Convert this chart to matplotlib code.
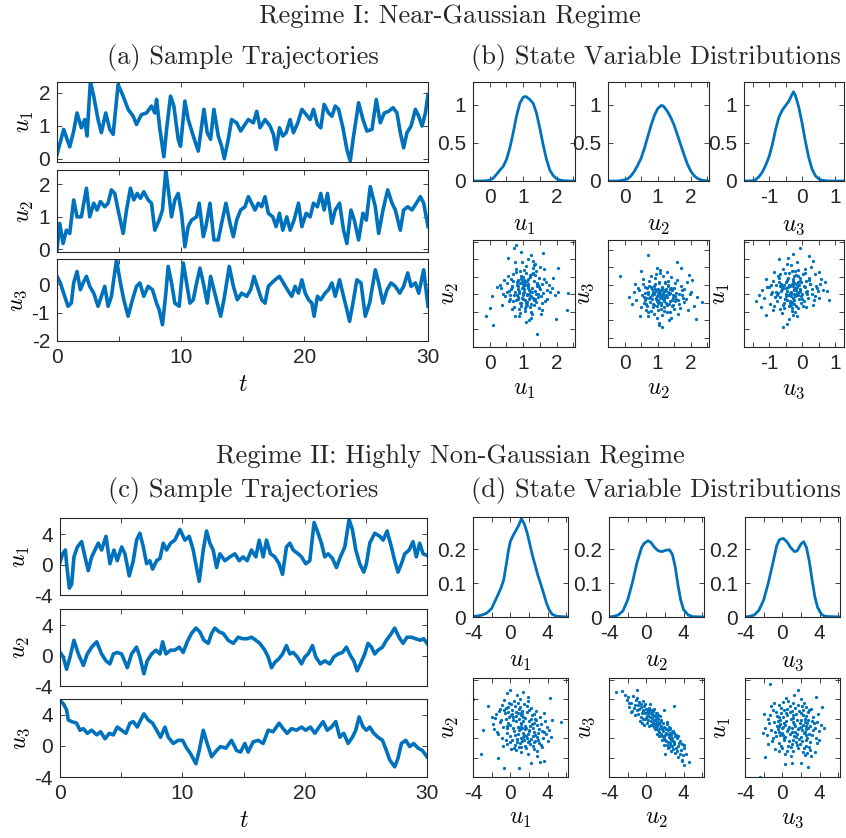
import numpy as np
import matplotlib
matplotlib.use('Agg')
import matplotlib.pyplot as plt

plt.rcParams['font.family'] = ['Liberation Sans', 'DejaVu Sans']
plt.rcParams['mathtext.fontset'] = 'cm'
plt.rcParams['axes.unicode_minus'] = False

BLUE = '#0072BD'
EDGE = '#262626'
W, H = 846, 838

# ---------------- Regime I: trajectories (t, u) ----------------
r1_u1 = [(0, 0.13), (0.54, 0.89), (1.03, 0.36), (1.35, 0.84), (1.62, 1.39), (1.97, 0.94), (2.24, 1.19), (2.43, 0.69),
         (2.70, 2.35), (2.97, 1.90), (3.32, 1.19), (3.59, 0.79), (3.94, 1.39), (4.27, 0.89), (4.54, 0.74), (4.94, 2.25),
         (5.35, 1.90), (5.75, 1.50), (6.16, 1.29), (6.43, 1.04), (6.83, 1.34), (7.24, 1.39), (7.64, 1.60), (7.91, 1.39),
         (8.05, 1.80), (8.32, 0.89), (8.64, 0.06), (8.86, 0.89), (9.18, 1.90), (9.45, 1.60), (9.80, 0.59), (9.99, 0.38),
         (10.34, 1.75), (10.61, 1.19), (11.02, 0.69), (11.42, 0.23), (11.88, 1.50), (12.15, 0.79), (12.42, 0.59),
         (12.69, 1.50), (13.04, 0.69), (13.31, 0.38), (13.53, 0.0), (13.85, 0.59), (14.12, 1.19), (14.53, 1.09),
         (14.85, 0.84), (15.20, 1.04), (15.47, 1.19), (15.88, 1.09), (16.15, 1.44), (16.42, 0.94), (16.82, 1.19),
         (17.23, 0.99), (17.50, 0.74), (17.72, 0.28), (17.99, 0.94), (18.26, 0.69), (18.53, 0.79), (18.85, 1.19),
         (19.12, 0.79), (19.47, 1.09), (19.80, 1.50), (20.15, 1.34), (20.47, 1.19), (20.74, 1.50), (21.06, 1.04),
         (21.33, 0.94), (21.60, 1.65), (21.96, 1.39), (22.23, 1.29), (22.50, 1.60), (22.77, 1.50), (23.12, 0.94),
         (23.44, 0.28), (23.71, -0.07), (23.98, 0.69), (24.39, 1.70), (24.74, 1.19), (25.06, 0.84), (25.47, 0.89),
         (25.82, 1.80), (26.14, 1.09), (26.47, 1.39), (26.82, 1.44), (27.17, 1.55), (27.49, 1.39), (27.76, 0.79),
         (28.03, 0.33), (28.30, 0.79), (28.63, 0.99), (28.98, 1.50), (29.25, 1.29), (29.52, 0.99), (29.79, 1.39),
         (30.0, 1.95)]
r1_u2 = [(0, -0.02), (0.22, 0.80), (0.49, 0.18), (0.76, 0.59), (1.03, 0.49), (1.35, 1.52), (1.62, 1.0), (1.97, 1.0),
         (2.38, 1.88), (2.65, 1.0), (2.97, 1.42), (3.24, 1.21), (3.51, 1.47), (3.86, 1.31), (4.13, 1.42), (4.40, 1.83),
         (4.67, 1.72), (4.94, 1.21), (5.35, 0.49), (5.62, 1.21), (5.94, 1.88), (6.21, 1.52), (6.48, 1.72), (6.75, 1.57),
         (7.02, 1.77), (7.37, 1.52), (7.64, 1.42), (7.91, 0.59), (8.26, 0.90), (8.53, 1.21), (8.80, 2.44), (9.07, 1.62),
         (9.26, 1.0), (9.53, 1.52), (9.80, 1.72), (10.07, 1.11), (10.34, 0.08), (10.61, 0.70), (10.88, 0.90),
         (11.29, 1.0), (11.50, 1.42), (11.83, 0.39), (12.04, 0.70), (12.37, 1.42), (12.69, 0.29), (13.04, 0.29),
         (13.31, 0.80), (13.66, 1.42), (13.99, 0.80), (14.26, 0.39), (14.53, 0.90), (14.85, 1.21), (15.20, 1.31),
         (15.47, 1.62), (15.74, 1.42), (16.01, 1.21), (16.28, 1.42), (16.55, 1.31), (16.82, 1.62), (17.09, 1.11),
         (17.45, 1.0), (17.72, 0.70), (17.99, 1.11), (18.26, 0.59), (18.58, 1.0), (18.85, 0.59), (19.17, 0.90),
         (19.53, 1.42), (19.80, 0.70), (20.15, 1.11), (20.47, 1.0), (20.74, 1.42), (21.06, 1.31), (21.33, 1.72),
         (21.60, 1.21), (21.87, 1.72), (22.23, 0.80), (22.50, 1.21), (22.85, 1.42), (23.17, 0.59), (23.44, 0.18),
         (23.77, 1.21), (24.04, 0.90), (24.39, 0.29), (24.74, 1.11), (25.01, 0.90), (25.33, 1.93), (25.74, 1.31),
         (26.01, 0.49), (26.36, 1.21), (26.74, 1.83), (27.09, 1.42), (27.36, 1.21), (27.76, 0.59), (28.03, 1.21),
         (28.36, 1.31), (28.71, 1.21), (29.06, 1.42), (29.38, 1.62), (29.65, 1.42), (30.0, 0.70)]
r1_u3 = [(0, 0.27), (0.27, 0.04), (0.62, -0.43), (0.89, -0.78), (1.16, -0.67), (1.35, 0.04), (1.62, 0.44),
         (1.89, -0.20), (2.11, 0.04), (2.38, 0.27), (2.65, -0.08), (2.97, -0.32), (3.32, -0.78), (3.59, -0.43),
         (3.86, -0.08), (4.13, -0.78), (4.40, -0.43), (4.81, 0.85), (5.13, 0.04), (5.40, -0.55), (5.75, -1.13),
         (6.10, -0.55), (6.43, -0.08), (6.70, 0.04), (7.02, -0.43), (7.37, -0.08), (7.72, -0.20), (8.05, -0.67),
         (8.26, -0.90), (8.53, -1.43), (8.80, -0.32), (8.99, 0.62), (9.26, 0.04), (9.53, -0.67), (9.88, -0.78),
         (10.21, 0.74), (10.48, 0.04), (10.75, -0.67), (11.02, -0.55), (11.29, 0.04), (11.56, 0.56), (11.83, 0.04),
         (12.15, -0.67), (12.42, 0.27), (12.69, -0.20), (12.96, -0.67), (13.23, -1.13), (13.50, -0.55), (13.93, 0.62),
         (14.26, -0.08), (14.58, -0.55), (14.93, -0.32), (15.34, -0.43), (15.66, -0.20), (15.93, 0.27), (16.28, -0.20),
         (16.55, -0.55), (16.82, -0.67), (17.09, -0.08), (17.36, 0.04), (17.63, 0.15), (17.99, 0.27), (18.31, 0.04),
         (18.63, -0.20), (18.98, -0.43), (19.25, -0.08), (19.53, -0.32), (19.80, 0.15), (20.07, -0.32), (20.34, -0.55),
         (20.61, -0.67), (20.79, -1.13), (21.06, -0.43), (21.33, -0.55), (21.68, -0.32), (21.95, -0.20), (22.23, 0.04),
         (22.50, -0.43), (22.85, 0.15), (23.17, -0.43), (23.44, -0.90), (23.66, -1.31), (23.93, -0.67), (24.25, 0.15),
         (24.58, 0.04), (24.93, -1.13), (25.28, -0.67), (25.74, 0.50), (26.01, 0.04), (26.36, -0.67), (26.69, -0.20),
         (27.01, 0.04), (27.36, -0.08), (27.71, -0.32), (28.03, -0.08), (28.36, 0.39), (28.63, -0.08), (28.98, 0.04),
         (29.25, -0.32), (29.65, 0.50), (30.0, -0.78)]

# ---------------- Regime I: densities (x, pdf) ----------------
r1_p1 = [(-0.5, 0), (-0.3, 0), (-0.1, 0.003), (0.0, 0.012), (0.1, 0.035), (0.2, 0.085), (0.3, 0.14), (0.4, 0.19),
         (0.5, 0.28), (0.6, 0.43), (0.7, 0.63), (0.8, 0.85), (0.9, 1.02), (1.0, 1.10), (1.08, 1.11), (1.2, 1.07),
         (1.3, 1.02), (1.4, 0.89), (1.5, 0.69), (1.6, 0.47), (1.7, 0.28), (1.8, 0.14), (1.9, 0.07), (2.0, 0.03),
         (2.1, 0.012), (2.2, 0.004), (2.4, 0), (2.55, 0)]
r1_p2 = [(-0.5, 0), (-0.2, 0), (0.0, 0.015), (0.1, 0.03), (0.2, 0.07), (0.3, 0.13), (0.4, 0.21), (0.5, 0.30),
         (0.6, 0.43), (0.7, 0.58), (0.8, 0.73), (0.9, 0.86), (1.0, 0.95), (1.1, 0.99), (1.15, 0.99), (1.2, 0.97),
         (1.3, 0.91), (1.4, 0.83), (1.5, 0.73), (1.6, 0.60), (1.7, 0.47), (1.8, 0.34), (1.9, 0.22), (2.0, 0.13),
         (2.1, 0.07), (2.2, 0.035), (2.3, 0.015), (2.4, 0.005), (2.55, 0)]
r1_p3 = [(-1.76, 0), (-1.6, 0), (-1.5, 0.005), (-1.4, 0.02), (-1.3, 0.06), (-1.2, 0.12), (-1.1, 0.21), (-1.0, 0.32),
         (-0.9, 0.48), (-0.8, 0.68), (-0.7, 0.84), (-0.6, 0.93), (-0.5, 0.99), (-0.4, 1.05), (-0.3, 1.14), (-0.26, 1.17),
         (-0.2, 1.12), (-0.1, 0.97), (0.0, 0.76), (0.1, 0.52), (0.2, 0.31), (0.3, 0.16), (0.4, 0.07), (0.5, 0.03),
         (0.6, 0.01), (0.8, 0), (1.27, 0)]

# ---------------- Regime I: scatter pairs ----------------
r1_s12 = [(1.02, 1.15), (0.84, 0.92), (1.31, 1.38), (1.12, 0.71), (0.67, 1.24), (1.45, 1.02), (0.95, 1.53), (1.18, 0.86), (0.73, 0.99), (1.56, 1.29),
          (1.08, 1.61), (0.89, 0.58), (1.27, 1.08), (0.52, 1.33), (1.39, 0.79), (1.01, 1.21), (0.78, 1.72), (1.22, 0.95), (1.63, 1.44), (0.94, 0.67),
          (1.15, 1.30), (0.61, 0.88), (1.34, 1.87), (0.99, 1.04), (1.48, 0.62), (0.86, 1.41), (1.05, 0.83), (1.72, 1.12), (0.41, 1.01), (1.19, 1.49),
          (0.92, 0.74), (1.26, 1.19), (0.70, 1.57), (1.11, 0.97), (1.53, 0.45), (0.83, 1.26), (1.37, 1.66), (1.04, 0.52), (0.58, 1.10), (1.29, 0.90),
          (0.97, 1.35), (1.66, 0.81), (0.76, 1.06), (1.14, 2.02), (1.42, 1.23), (0.88, 0.39), (1.21, 1.54), (0.32, 1.28), (1.09, 0.76), (1.85, 1.17),
          (0.96, 1.93), (1.33, 0.69), (0.65, 1.45), (1.17, 1.13), (1.50, 1.78), (0.80, 0.84), (1.03, 1.40), (1.24, 0.33), (0.47, 0.94), (1.40, 1.31),
          (1.00, 0.98), (0.91, 1.68), (1.59, 1.05), (0.72, 0.63), (1.13, 1.25), (1.36, 0.88), (0.85, 1.14), (1.07, 1.81), (1.94, 0.97), (0.55, 1.52),
          (1.23, 0.72), (0.98, 1.18), (1.46, 1.47), (0.69, 0.80), (1.16, 1.02), (1.30, 1.62), (0.81, 1.34), (1.06, 0.60), (1.77, 1.26), (0.38, 0.71),
          (1.20, 1.09), (0.93, 2.21), (1.43, 0.92), (0.63, 1.16), (1.10, 1.39), (1.55, 0.55), (0.87, 1.03), (1.28, 1.74), (1.01, 0.86), (0.21, 1.22),
          (1.35, 1.11), (0.90, 0.47), (1.68, 1.36), (0.75, 1.91), (1.12, 0.78), (1.47, 1.20), (0.82, 0.99), (1.25, 1.58), (1.04, 1.28), (2.05, 1.06),
          (0.59, 0.82), (1.18, 0.27), (0.95, 1.44), (1.38, 1.00), (0.71, 1.37), (1.08, 0.68), (1.61, 1.71), (0.44, 1.42), (1.32, 0.85), (1.00, 1.50),
          (0.86, 1.24), (1.22, 2.12), (1.52, 0.95), (0.66, 0.57), (1.14, 1.19), (0.97, 0.90), (1.41, 1.32), (0.79, 1.63), (1.27, 0.43), (1.88, 1.48),
          (0.53, 1.07), (1.06, 1.35), (1.33, 1.84), (0.89, 1.11), (1.19, 0.64), (0.08, 0.96), (1.44, 1.27), (0.94, 0.76), (1.71, 0.88), (0.74, 2.31),
          (1.11, 1.01), (1.36, 1.55), (0.84, 0.88), (1.02, 1.70), (2.35, 1.05), (0.62, 0.99), (1.24, 0.50), (0.99, 1.29), (1.49, 1.15), (0.77, 0.37),
          (1.15, 1.43), (1.57, 0.74), (0.35, 1.18), (1.29, 1.96), (0.92, 1.33), (1.07, 0.20), (1.80, 1.06), (0.68, 1.21), (1.21, 0.93), (1.03, 1.06),
          (1.40, -0.12), (0.80, 2.40), (-0.10, 0.37), (0.10, 0.13), (2.30, 0.55), (1.97, 0.30), (2.05, 1.76), (0.55, 2.05), (1.60, 2.19), (0.00, 0.60)]
r1_s23 = [(1.12, -0.31), (0.84, -0.12), (1.38, -0.45), (1.05, 0.05), (0.66, -0.38), (1.55, -0.22), (0.97, -0.60), (1.23, -0.18), (0.75, -0.02), (1.46, -0.36),
          (1.01, -0.27), (0.58, -0.51), (1.31, 0.11), (1.09, -0.69), (1.72, -0.29), (0.88, -0.25), (1.19, -0.47), (0.45, -0.15), (1.41, -0.08), (0.94, -0.40),
          (1.28, -0.58), (0.71, -0.21), (1.63, -0.53), (1.02, -0.13), (1.16, 0.26), (0.80, -0.75), (1.50, -0.10), (1.07, -0.33), (0.36, -0.44), (1.34, -0.26),
          (0.91, 0.02), (1.86, -0.39), (1.13, -0.86), (0.62, -0.07), (1.25, -0.30), (1.04, -0.49), (1.58, 0.15), (0.78, -0.34), (1.20, -0.16), (0.99, -0.95),
          (1.43, -0.42), (0.53, -0.28), (1.08, 0.33), (1.67, -0.65), (0.86, -0.55), (1.30, -0.04), (0.69, -0.60), (1.17, -0.23), (2.02, -0.19), (0.95, -0.37),
          (1.36, -0.78), (0.74, 0.12), (1.11, -0.52), (1.52, -0.31), (0.28, -0.20), (1.22, 0.04), (0.90, -0.24), (1.78, -0.11), (1.00, -0.71), (0.63, -0.44),
          (1.27, -0.35), (1.06, 0.42), (0.82, -0.30), (1.47, -0.57), (1.14, -0.09), (0.57, 0.01), (1.61, -0.44), (0.96, -0.17), (1.33, -0.99), (0.72, -0.27),
          (1.18, -0.40), (1.92, -0.70), (0.87, -0.64), (1.40, 0.21), (1.03, -0.21), (0.49, -0.62), (1.26, -0.50), (0.93, 0.18), (1.70, -0.02), (1.10, -0.56),
          (0.68, -0.10), (1.37, -0.24), (0.14, -0.35), (1.20, -0.74), (0.98, -0.46), (1.56, -0.39), (0.79, 0.26), (1.15, -0.28), (2.20, -0.33), (0.89, -0.82),
          (1.44, -0.15), (1.05, -1.08), (0.60, -0.33), (1.29, 0.37), (0.85, -0.19), (1.81, -0.49), (1.12, -0.05), (0.40, -0.08), (1.49, -0.68), (1.01, -0.29),
          (0.76, -0.48), (1.21, 0.09), (1.65, -0.27), (0.92, -0.11), (1.35, -0.55), (1.09, -0.36), (0.55, 0.17), (2.10, -0.60), (1.24, -0.13), (0.83, -0.39),
          (1.40, -0.93), (0.97, 0.48), (1.73, -0.16), (0.66, -0.70), (1.16, -0.41), (1.32, -0.20), (0.22, -0.55), (1.06, -0.25), (1.53, 0.06), (0.88, -0.57),
          (1.19, -0.63), (0.73, -0.36), (1.98, -0.25), (1.02, -0.44), (1.45, -0.30), (0.95, 0.30), (1.28, -0.77), (0.61, -0.24), (1.11, -0.14), (1.62, -0.82),
          (0.81, -0.06), (1.37, -0.12), (1.00, -0.52), (2.35, -0.48), (0.48, -0.88), (1.23, -0.34), (0.90, -0.03), (1.52, -0.47), (1.07, -0.17), (0.70, -0.78),
          (1.31, 0.00), (0.99, -0.32), (1.76, -0.37), (0.86, -0.22), (1.14, -1.20), (0.32, 0.03), (1.42, -0.60), (1.04, 0.09), (0.64, -0.53), (1.88, 0.07),
          (-0.13, 0.26), (0.72, 0.84), (1.57, 0.65), (2.17, -0.96), (1.05, -1.14), (1.70, 0.47), (0.50, 0.40), (1.95, 0.28), (0.72, -0.89), (2.05, 0.15)]
r1_s31 = [(-0.26, 1.12), (-0.51, 0.88), (-0.04, 1.35), (-0.33, 0.71), (0.12, 1.08), (-0.68, 1.24), (-0.19, 1.55), (-0.42, 0.97), (0.05, 0.82), (-0.29, 1.43),
          (-0.60, 1.18), (-0.11, 0.60), (-0.37, 1.03), (0.24, 1.29), (-0.82, 0.92), (-0.22, 1.68), (-0.48, 1.36), (-0.01, 1.01), (-0.31, 0.53), (-0.73, 1.52),
          (0.18, 0.90), (-0.14, 1.22), (-0.55, 0.76), (-0.35, 1.84), (0.31, 1.15), (-0.92, 1.07), (-0.24, 0.85), (-0.06, 1.47), (-0.64, 1.31), (-0.40, 0.67),
          (0.08, 1.62), (-0.18, 0.99), (-1.05, 1.21), (-0.45, 1.11), (0.40, 0.96), (-0.28, 0.42), (-0.58, 1.73), (-0.09, 1.26), (-0.77, 0.81), (-0.35, 1.04),
          (0.21, 1.41), (-0.50, 0.94), (-0.16, 1.93), (-0.87, 1.38), (-0.02, 0.74), (-0.39, 1.27), (0.47, 1.09), (-0.66, 0.58), (-0.25, 1.16), (-1.15, 0.89),
          (-0.13, 1.34), (-0.44, 2.05), (0.15, 1.01), (-0.57, 1.19), (-0.30, 0.79), (0.02, 1.58), (-0.95, 1.00), (-0.21, 0.96), (-0.70, 1.46), (0.34, 0.70),
          (-0.36, 1.24), (-0.08, 0.88), (-0.62, 0.47), (-0.27, 1.39), (0.55, 1.30), (-0.47, 0.83), (-0.12, 1.70), (-1.22, 1.12), (-0.33, 1.07), (0.10, 1.21),
          (-0.53, 1.60), (-0.19, 0.68), (-0.79, 1.28), (0.27, 1.78), (-0.41, 0.98), (-0.05, 1.10), (-0.66, 0.93), (-0.23, 1.51), (0.36, 0.84), (-0.98, 0.73),
          (-0.31, 1.30), (-0.14, 0.38), (-0.72, 1.05), (0.06, 1.23), (-0.46, 1.42), (-0.27, 0.90), (0.62, 1.12), (-0.84, 1.63), (-0.10, 1.06), (-0.56, 0.62),
          (-0.20, 1.18), (-1.30, 0.97), (-0.38, 0.76), (0.20, 1.48), (-0.61, 1.14), (-0.03, 0.95), (-0.45, 1.88), (0.43, 1.24), (-0.89, 0.55), (-0.25, 1.33),
          (-0.15, 1.04), (-0.69, 1.34), (0.13, 0.63), (-0.43, 1.21), (-0.32, 1.66), (0.29, 1.02), (-1.08, 1.45), (-0.07, 1.38), (-0.52, 0.87), (-0.28, 2.15),
          (0.52, 0.89), (-0.76, 0.99), (-0.17, 1.13), (-0.39, 0.30), (0.09, 1.72), (-0.63, 1.09), (-0.24, 0.72), (0.70, 1.36), (-0.94, 1.26), (-0.48, 1.17),
          (-0.11, 1.52), (-0.34, 0.95), (0.25, 1.31), (-0.58, 0.70), (-0.01, 0.87), (-1.40, 0.81), (-0.29, 1.25), (0.38, 1.57), (-0.80, 1.06), (-0.21, 0.51),
          (-0.44, 1.46), (0.16, 1.11), (-0.67, 1.58), (-0.06, 1.16), (-0.36, 0.82), (0.58, 1.44), (-1.00, 1.20), (-0.26, 1.01), (-0.54, 1.28), (0.04, 0.68),
          (-0.18, 1.29), (-0.49, 1.02), (0.32, 1.94), (-0.85, 0.66), (-0.12, 0.99), (-0.40, 1.61), (0.11, 1.38), (-0.62, 1.24), (-0.30, 0.61), (0.46, 1.19),
          (-0.07, 2.31), (0.82, 0.85), (-0.57, 0.07), (-1.24, 0.63), (0.51, 1.65), (-0.70, 2.00), (0.75, 1.10), (-1.10, 0.40), (-0.45, 0.15), (0.20, 2.10)]

# ---------------- Regime II: trajectories (t, u) ----------------
r2_u1 = [(0, 0.3), (0.22, 1.4), (0.44, 1.9), (0.54, 0.1), (0.76, -3.1), (0.95, -2.6), (1.14, 1.0), (1.42, 2.3), (1.77, 3.0),
         (2.04, 1.0), (2.31, -0.8), (2.59, 1.0), (2.86, 1.9), (3.13, 2.8), (3.40, 1.9), (3.76, 3.7), (4.08, 0.1), (4.41, 1.9),
         (4.68, 0.5), (5.04, 2.3), (5.31, 1.4), (5.66, -1.5), (5.99, 0.5), (6.26, 3.2), (6.53, 4.1), (6.81, 2.3), (7.08, 0.1),
         (7.35, 0.5), (7.57, -0.6), (7.90, 0.5), (8.17, 0.8), (8.44, 2.8), (8.71, 1.9), (9.04, 2.8), (9.39, 3.2), (9.80, 4.6),
         (10.21, 3.2), (10.56, 3.7), (10.89, 1.9), (11.16, -0.4), (11.38, -2.2), (11.71, 1.9), (11.98, 4.4), (12.25, 2.8),
         (12.52, 1.9), (12.80, -0.4), (13.07, 1.4), (13.48, 0.5), (13.89, 1.0), (14.29, 1.4), (14.65, 0.5), (14.97, 1.0),
         (15.30, 0.5), (15.65, 1.9), (16.01, 1.0), (16.28, 3.2), (16.61, 1.0), (16.88, 3.2), (17.21, 1.4), (17.56, 1.0),
         (17.91, 0.1), (18.19, -1.3), (18.51, 2.3), (18.79, 2.8), (19.06, 1.9), (19.47, 1.4), (19.74, 1.0), (20.09, 0.1),
         (20.42, 0.5), (20.77, 5.5), (21.10, 4.1), (21.37, 2.8), (21.64, 1.0), (21.92, 1.4), (22.27, 0.8), (22.60, -0.4),
         (22.92, 1.0), (23.28, 2.3), (23.63, 5.9), (23.90, 4.6), (24.18, 1.9), (24.50, 0.1), (24.83, -1.0), (25.05, 0.1),
         (25.32, 2.8), (25.73, 4.1), (26.14, 3.7), (26.41, 3.2), (26.74, 4.4), (27.09, 2.3), (27.36, 0.5), (27.63, -1.0),
         (27.91, 0.1), (28.18, 1.4), (28.54, 1.9), (28.86, 3.0), (29.13, 1.0), (29.40, 2.8), (29.68, 1.4), (30.0, 1.2)]
r2_u2 = [(0, 0.4), (0.27, -0.2), (0.54, -1.8), (0.82, -0.2), (1.14, 2.0), (1.50, 0.2), (1.91, -1.3), (2.23, 0.2), (2.59, 1.1),
         (3.00, 1.8), (3.40, 0.2), (3.76, -0.7), (4.08, -1.1), (4.36, 0.2), (4.68, 0.4), (5.04, 0.2), (5.50, -1.6), (5.85, 0.2),
         (6.26, 1.1), (6.53, -0.2), (6.86, -2.4), (7.13, -0.7), (7.49, 0.2), (7.84, 0.7), (8.17, 0.2), (8.39, 1.8), (8.66, 0.2),
         (9.04, 0.7), (9.39, 0.7), (9.75, 1.1), (10.07, 0.4), (10.40, 1.8), (10.75, 2.9), (11.11, 3.6), (11.43, 3.1),
         (11.76, 2.0), (12.12, 1.6), (12.39, 2.9), (12.66, 3.6), (13.01, 3.1), (13.34, 2.9), (13.75, 2.0), (14.16, 1.6),
         (14.57, 2.4), (14.92, 2.2), (15.30, 2.2), (15.65, 2.4), (16.01, 2.0), (16.33, 1.6), (16.74, 0.7), (17.02, -0.2),
         (17.29, -1.6), (17.56, -0.9), (17.91, -0.4), (18.19, 0.2), (18.51, 1.3), (18.79, 0.2), (19.06, 0.4), (19.41, -0.2),
         (19.74, -1.1), (20.01, -0.2), (20.28, 0.2), (20.64, 1.3), (20.91, -0.2), (21.29, -1.1), (21.64, -0.7), (22.05, -1.1),
         (22.38, -0.2), (22.73, 0.2), (23.09, 0.4), (23.41, 1.1), (23.74, 0.0), (24.01, -0.7), (24.29, -2.0), (24.56, -1.1),
         (24.91, 0.2), (25.18, 1.6), (25.46, 1.1), (25.73, 0.2), (26.00, 0.7), (26.36, 1.1), (26.68, 2.0), (27.01, 2.7),
         (27.36, 3.6), (27.71, 2.4), (28.04, 1.6), (28.37, 2.4), (28.72, 2.4), (29.07, 2.2), (29.45, 2.0), (29.73, 2.2),
         (30.0, 1.6)]
r2_u3 = [(0, 5.8), (0.27, 5.4), (0.54, 4.6), (0.68, 3.3), (0.95, 3.1), (1.36, 2.9), (1.63, 2.0), (1.91, 2.2), (2.23, 1.6),
         (2.59, 2.0), (3.00, 1.4), (3.32, 1.8), (3.68, 0.9), (4.03, 1.6), (4.36, 1.4), (4.68, 2.4), (5.04, 2.0), (5.39, 1.6),
         (5.72, 2.9), (5.99, 3.1), (6.32, 2.4), (6.59, 3.3), (6.86, 4.1), (7.22, 3.3), (7.57, 2.9), (7.90, 2.0), (8.22, 1.1),
         (8.58, 2.4), (8.85, 1.1), (9.26, 0.3), (9.66, 0.7), (10.02, 0.7), (10.35, -0.3), (10.67, -1.0), (11.11, -2.3),
         (11.38, -0.6), (11.71, 2.0), (12.03, 0.3), (12.39, -1.4), (12.80, -0.6), (13.12, -0.1), (13.56, -0.3), (14.02, 0.7),
         (14.43, -0.6), (14.76, -0.8), (15.11, 0.3), (15.38, -0.8), (15.79, 0.5), (16.20, 0.7), (16.61, 0.3), (17.02, 2.0),
         (17.42, 1.8), (17.91, 2.9), (18.24, 2.2), (18.57, 1.6), (18.92, 2.2), (19.33, 2.0), (19.74, 2.4), (20.09, 2.0),
         (20.47, 2.4), (20.83, 1.6), (21.18, 2.4), (21.51, 3.1), (21.84, 2.0), (22.19, 2.4), (22.54, 3.1), (22.87, 1.1),
         (23.20, 1.6), (23.55, 0.3), (23.90, 1.1), (24.18, 2.0), (24.45, 3.7), (24.78, 2.4), (25.05, 2.0), (25.32, 2.4),
         (25.65, 1.6), (26.00, 1.1), (26.36, 0.7), (26.68, -0.6), (26.95, -1.8), (27.36, -2.7), (27.63, -1.6), (27.91, 0.3),
         (28.26, 0.7), (28.59, -0.1), (28.91, 0.3), (29.27, -0.3), (29.62, -0.6), (30.0, -1.4)]

# ---------------- Regime II: densities ----------------
r2_p1 = [(-4.0, 0.002), (-3.5, 0.003), (-3.0, 0.006), (-2.5, 0.012), (-2.0, 0.025), (-1.5, 0.055), (-1.0, 0.085),
         (-0.7, 0.11), (-0.4, 0.16), (-0.2, 0.195), (0.0, 0.222), (0.3, 0.24), (0.6, 0.255), (0.9, 0.27), (1.2, 0.29),
         (1.5, 0.275), (1.8, 0.25), (2.1, 0.215), (2.4, 0.18), (2.7, 0.15), (3.0, 0.12), (3.3, 0.095), (3.6, 0.068),
         (3.9, 0.04), (4.2, 0.02), (4.5, 0.008), (5.0, 0.002), (6.2, 0)]
r2_p2 = [(-4.0, 0), (-3.5, 0.002), (-3.0, 0.006), (-2.5, 0.018), (-2.0, 0.05), (-1.5, 0.10), (-1.0, 0.16), (-0.5, 0.205),
         (-0.2, 0.218), (0.2, 0.225), (0.5, 0.22), (0.9, 0.205), (1.3, 0.195), (1.7, 0.193), (2.1, 0.197), (2.5, 0.198),
         (2.8, 0.185), (3.1, 0.15), (3.4, 0.095), (3.7, 0.05), (4.0, 0.022), (4.5, 0.006), (5.0, 0.001), (6.2, 0)]
r2_p3 = [(-4.0, 0), (-3.5, 0.002), (-3.0, 0.006), (-2.5, 0.02), (-2.0, 0.05), (-1.5, 0.10), (-1.0, 0.16), (-0.6, 0.21),
         (-0.3, 0.228), (0.1, 0.232), (0.5, 0.222), (0.9, 0.205), (1.3, 0.193), (1.6, 0.195), (2.0, 0.215), (2.3, 0.222),
         (2.6, 0.205), (2.9, 0.165), (3.2, 0.11), (3.5, 0.06), (3.8, 0.028), (4.2, 0.008), (4.6, 0.002), (6.2, 0)]

# ---------------- Regime II: scatter pairs ----------------
r2_s12 = [(0.8, 2.6), (1.9, 0.4), (-0.5, 3.1), (2.7, -0.3), (1.2, 1.5), (0.3, 2.2), (3.1, 0.9), (-1.2, 2.8), (1.6, -0.8), (0.5, 0.3),
          (2.2, 2.0), (-0.1, 3.6), (1.4, 0.1), (3.6, 0.6), (0.9, 3.0), (-0.8, 1.2), (2.5, -1.1), (1.1, 2.4), (0.0, -0.4), (1.8, 3.3),
          (2.9, 1.4), (0.6, 1.8), (-1.6, 2.1), (1.5, -0.2), (3.3, -0.7), (0.2, 2.9), (2.0, 0.7), (-0.4, 0.5), (1.0, 4.0), (2.6, 2.5),
          (0.4, -1.0), (1.7, 1.1), (-0.9, 3.4), (3.9, 1.2), (1.3, 2.8), (0.7, -0.1), (2.4, 0.2), (-0.2, 1.6), (1.9, 3.8), (3.0, -0.2),
          (0.1, 2.4), (1.2, -1.4), (2.8, 1.9), (-1.4, 0.6), (0.9, 0.8), (2.1, -0.6), (-0.6, 2.6), (1.6, 2.1), (3.5, 0.0), (0.5, 3.3),
          (1.4, 0.5), (-0.3, -0.6), (2.3, 1.5), (0.8, 1.2), (4.2, 0.8), (1.0, -0.5), (-1.0, 1.9), (2.7, 0.3), (0.3, 1.0), (1.8, 2.7),
          (3.2, 2.2), (0.6, 2.3), (-0.7, 3.9), (2.0, -0.3), (1.1, 0.0), (2.9, -1.3), (0.0, 1.4), (1.5, 3.5), (-1.8, 1.5), (2.4, 1.0),
          (0.9, -0.9), (1.7, 0.2), (3.7, 1.8), (-0.5, 2.0), (1.3, 2.5), (0.4, 0.7), (2.6, -0.4), (-1.1, 3.0), (2.0, 2.9), (0.7, 4.4),
          (1.2, 1.2), (3.0, 0.5), (-0.2, 2.7), (1.9, -1.6), (0.2, -0.2), (2.3, 2.4), (-1.5, 2.5), (1.4, 1.8), (3.4, -0.9), (0.8, 0.4),
          (-0.4, 1.1), (2.1, 1.3), (1.0, 3.2), (4.0, -0.3), (0.5, -0.7), (1.6, 0.9), (-0.9, 0.0), (2.8, 2.8), (0.1, 3.5), (1.3, -0.3),
          (2.5, 0.6), (-0.1, 2.2), (1.7, -1.0), (3.3, 1.5), (0.6, 2.7), (-2.0, 2.2), (1.1, 1.6), (2.2, -0.1), (0.3, 1.9), (4.5, 1.9),
          (1.5, 0.3), (-0.7, 2.9), (2.9, 0.1), (0.9, 2.0), (1.9, 4.2), (-1.3, 0.4), (2.4, -0.8), (0.0, 0.2), (3.6, 2.6), (1.2, -0.9),
          (0.4, 3.8), (2.0, 1.8), (-0.3, 1.3), (3.1, -0.5), (1.4, 2.2), (-0.8, -0.8), (2.6, 1.6), (0.7, -0.4), (1.8, 0.0), (-2.4, 3.3),
          (1.0, 0.9), (3.8, 0.4), (0.2, 2.5), (2.2, 3.1), (-0.5, -0.2), (1.6, 1.3), (2.9, -1.8), (-1.1, 1.7), (0.8, 3.6), (2.0, 0.8),
          (1.3, 1.0), (-0.2, 3.2), (3.4, 0.7), (0.6, -1.2), (2.7, 2.0), (1.9, -0.4), (-1.7, 0.9), (0.1, -1.1), (4.4, 0.1), (1.1, 2.6),
          (-4.0, 4.0), (0.0, 5.0), (-0.7, -3.1), (-3.1, -1.6), (-2.9, 0.8), (4.3, 4.1), (5.4, 1.7), (3.2, -2.5), (3.6, -2.4), (0.9, -3.1),
          (-0.3, 4.7), (1.4, 4.8), (-1.3, -2.0), (2.2, -2.6)]
r2_s23 = [(0.2, 2.4), (2.5, 0.0), (-0.5, 2.6), (1.3, 1.6), (3.0, -0.4), (0.8, 1.2), (-1.2, 3.4), (2.1, 0.9), (0.0, 3.0), (1.7, 0.2),
          (2.8, 0.6), (-0.8, 3.7), (0.5, 1.8), (3.4, -0.8), (1.0, 2.2), (2.3, -0.4), (-1.6, 3.6), (0.3, 3.1), (1.9, 1.2), (3.7, -1.2),
          (-0.3, 2.0), (1.4, 0.6), (2.6, 0.9), (0.7, 2.8), (-1.0, 2.9), (3.1, 0.2), (1.1, 0.9), (2.0, 0.3), (-0.1, 3.5), (0.9, 1.5),
          (2.4, -0.9), (-1.4, 4.3), (1.6, 1.9), (3.3, 0.0), (0.4, 2.2), (2.9, -1.1), (-0.6, 3.2), (1.2, 1.3), (2.2, 1.5), (0.1, 1.6),
          (3.6, -0.3), (-2.0, 4.2), (1.8, 0.7), (0.6, 2.5), (2.7, -0.2), (-0.4, 2.9), (1.5, 1.0), (3.9, -1.7), (0.9, 1.9), (2.3, 0.4),
          (-0.9, 2.5), (1.0, 2.6), (2.5, 0.5), (0.3, 2.7), (3.2, -1.0), (1.9, 0.0), (-1.8, 3.2), (0.7, 1.6), (2.1, -0.3), (1.3, 2.0),
          (-0.2, 3.3), (2.8, -0.8), (0.5, 1.4), (3.5, -0.5), (1.6, 0.4), (-1.1, 3.9), (2.4, 1.2), (0.1, 2.3), (1.2, 2.1), (3.0, 0.5),
          (-0.6, 2.2), (2.0, 1.1), (0.8, 3.0), (2.7, 0.3), (-1.5, 2.8), (1.4, 1.5), (3.8, -0.6), (0.4, 2.9), (2.2, -0.7), (-0.1, 2.6),
          (1.8, 1.6), (3.1, -1.5), (0.6, 2.1), (-0.8, 3.0), (2.5, -0.5), (1.1, 0.4), (-2.3, 4.5), (0.2, 1.9), (2.9, 0.7), (1.5, 2.3),
          (0.0, 2.1), (2.3, 0.8), (-1.3, 3.1), (3.4, -1.9), (0.9, 2.3), (1.7, -0.2), (-0.4, 3.8), (2.6, 0.2), (1.3, 0.8), (4.1, -1.0),
          (0.4, 3.5), (-0.7, 1.8), (2.1, 0.5), (1.0, 1.2), (3.3, -1.3), (-1.9, 3.6), (1.6, 1.3), (0.7, 2.4), (2.8, 0.0), (-0.3, 2.8),
          (1.9, -0.7), (0.3, 1.3), (3.6, -1.6), (1.2, 2.6), (-1.0, 4.1), (2.4, 0.1), (0.6, 2.9), (3.0, -0.6), (-0.5, 1.6), (1.4, 0.2),
          (2.2, 1.7), (0.1, 2.7), (-1.6, 2.7), (2.9, -0.3), (0.8, 1.9), (1.7, 0.9), (3.8, -2.2), (-0.2, 1.4), (2.5, 1.0), (1.1, 1.7),
          (0.5, 2.6), (-1.2, 2.4), (3.2, 0.3), (1.5, 1.7), (2.0, -0.2), (-0.6, 3.5), (0.9, 0.9), (2.7, -1.3), (1.3, 2.4), (4.3, -1.6),
          (-0.9, 3.4), (1.8, 0.2), (0.2, 3.0), (3.4, 0.2), (2.3, -1.0), (-0.1, 2.0), (1.0, 1.6), (-2.1, 3.9), (2.6, -0.6), (0.6, 1.4),
          (-3.2, 4.8), (4.6, -2.5), (3.0, 3.3), (-2.6, 4.9), (4.0, -2.8), (-1.0, 5.0), (3.8, -2.3), (2.0, -1.6), (1.9, 2.9), (4.1, -0.7)]
r2_s31 = [(0.1, 1.2), (2.4, 0.6), (-0.6, 2.3), (1.5, -0.4), (2.8, 1.9), (0.5, 3.0), (-1.2, 0.8), (2.0, 2.6), (0.9, -0.9), (3.2, 0.3),
          (0.2, 0.0), (2.2, 1.4), (-0.3, -0.5), (1.1, 2.1), (3.0, -1.2), (-0.9, 1.7), (1.7, 0.9), (0.6, 3.8), (2.6, -0.2), (-0.1, 2.6),
          (1.3, 1.5), (2.9, 2.9), (0.0, 1.0), (-1.5, 2.0), (2.3, -1.0), (0.8, 0.4), (3.5, 1.1), (-0.4, 3.4), (1.8, -0.1), (0.4, 1.8),
          (2.5, 0.9), (-0.7, 0.2), (1.0, 2.8), (3.7, -0.5), (0.3, -1.6), (2.1, 3.3), (-1.0, 2.9), (1.4, 0.6), (2.7, 1.6), (-0.2, 1.5),
          (0.7, -0.3), (2.0, 0.1), (-1.8, 1.1), (3.3, 2.2), (1.2, 3.6), (0.1, 2.2), (2.4, -1.7), (-0.5, 0.9), (1.6, 1.9), (3.9, 0.7),
          (0.5, 0.7), (2.2, 2.4), (-0.8, -1.1), (1.9, -0.6), (-0.1, 3.1), (2.9, 0.4), (1.0, 1.0), (0.2, -0.2), (3.1, 3.0), (-1.3, 2.4),
          (1.5, 2.5), (2.6, -0.8), (0.4, 4.1), (-0.6, 1.3), (1.1, -1.3), (3.4, 1.6), (0.0, 0.5), (2.0, 1.2), (-1.1, -0.3), (2.8, 2.7),
          (0.9, 2.0), (1.7, -1.0), (-0.2, 1.9), (3.6, 0.0), (0.6, -0.8), (2.3, 3.6), (-0.9, 3.6), (1.3, 0.2), (2.5, 1.3), (0.2, 2.9),
          (-1.6, 0.3), (1.8, 2.8), (3.0, -0.4), (0.3, 1.4), (2.1, 0.8), (-0.4, -1.3), (1.2, 1.7), (4.2, 1.4), (0.8, 3.3), (2.7, 0.0),
          (-0.3, 0.6), (2.4, 2.0), (1.0, -0.6), (3.2, 1.8), (0.1, 3.7), (1.6, 0.4), (-1.4, 1.6), (2.2, -1.4), (0.5, 2.4), (3.8, 2.5),
          (1.4, 3.1), (-0.7, 2.7), (2.6, 0.3), (0.0, -1.0), (1.9, 1.6), (3.1, -1.8), (-0.2, 0.3), (2.0, 4.0), (0.7, 1.2), (-2.0, 2.5),
          (2.8, 1.0), (0.3, 0.1), (1.1, 2.4), (3.5, -1.4), (-0.5, 1.8), (2.3, 0.5), (0.9, -1.8), (1.7, 3.4), (-1.0, 0.0), (2.5, 2.3),
          (0.4, 2.6), (3.0, 1.3), (-0.1, -0.8), (1.5, 0.1), (2.1, -0.3), (-1.2, 3.3), (0.6, 0.9), (3.7, 1.7), (1.2, -0.2), (2.6, 3.2),
          (-0.4, 2.2), (2.0, 1.9), (0.2, 1.6), (1.3, 4.4), (2.9, -0.9), (-0.8, 0.6), (1.8, 1.1), (0.5, -1.3), (3.3, 0.8), (1.0, 0.6),
          (2.4, 1.7), (-0.3, 1.3), (1.6, -0.7), (0.8, 2.7), (3.9, -0.2), (-1.5, -0.6), (2.2, 2.9), (0.1, 0.3), (1.4, 1.3), (2.7, -1.5),
          (-2.4, -4.0), (-1.3, 5.6), (2.8, -3.0), (1.0, -2.6), (0.3, -2.7), (4.5, 1.0), (-2.1, 0.5), (1.7, 5.0), (3.6, 4.2), (-1.8, -1.9),
          (2.0, -2.6), (4.3, 3.2)]

# axis limits / ticks
lim_a, lim_c = (-0.5, 2.55), (-1.76, 1.27)
ticks_a, lab_a = [-0.5, 0, 0.5, 1, 1.5, 2, 2.5], ['', '0', '', '1', '', '2', '']
ticks_c, lab_c = [-1.5, -1, -0.5, 0, 0.5, 1], ['', '-1', '', '0', '', '1']
lim_2 = (-4, 6.2)
ticks_2, lab_2 = [-4, -2, 0, 2, 4, 6], ['-4', '', '0', '', '4', '']
t_ticks, t_labs = [0, 5, 10, 15, 20, 25, 30], ['0', '', '10', '', '20', '', '30']
yt_d1, yl_d1 = [0, 0.5, 1], ['0', '0.5', '1']
yt_d2, yl_d2 = [0, 0.1, 0.2], ['0', '0.1', '0.2']

fig = plt.figure(figsize=(W / 100, H / 100), dpi=100)


def box(l, t, r, b):
    ax = fig.add_axes([l / W, 1 - b / H, (r - l) / W, (b - t) / H])
    ax.tick_params(direction='in', top=True, right=True, length=3.5, width=0.6,
                   labelsize=15, colors=EDGE, pad=5)
    for s in ax.spines.values():
        s.set_color(EDGE)
        s.set_linewidth(0.8)
    return ax


def xy(pairs):
    a = np.array(pairs, dtype=float)
    return a[:, 0], a[:, 1]


def title(x, y, s):
    fig.text(x / W, 1 - y / H, s, ha='center', va='baseline', fontsize=19,
             family='cmr10', color=EDGE)


def traj(rect, data, ylim, yticks, name, last):
    ax = box(*rect)
    t, u = xy(data)
    ax.plot(t, u, color=BLUE, lw=2.6)
    ax.set_xlim(0, 30)
    ax.set_ylim(*ylim)
    ax.set_xticks(t_ticks)
    ax.set_xticklabels(t_labs if last else [''] * 7)
    ax.set_yticks(yticks)
    ax.set_yticklabels([str(v) for v in yticks])
    ax.set_ylabel(name, fontsize=17, labelpad=2)
    if last:
        ax.set_xlabel('$t$', fontsize=17, labelpad=5)


def dens(rect, data, xlim, ylim, xt, xl, yt, yl, name):
    ax = box(*rect)
    x, p = xy(data)
    ax.plot(x, p, color=BLUE, lw=2.0)
    ax.set_xlim(*xlim)
    ax.set_ylim(*ylim)
    ax.set_xticks(xt)
    ax.set_xticklabels(xl)
    ax.set_yticks(yt)
    ax.set_yticklabels(yl)
    ax.set_xlabel(name, fontsize=17, labelpad=6)


def scat(rect, data, xlim, ylim, xt, xl, yt, xn, yn):
    ax = box(*rect)
    x, y = xy(data)
    ax.scatter(x, y, s=5.5, color=BLUE, linewidths=0)
    ax.set_xlim(*xlim)
    ax.set_ylim(*ylim)
    ax.set_xticks(xt)
    ax.set_xticklabels(xl)
    ax.set_yticks(yt)
    ax.set_yticklabels([''] * len(yt))
    ax.set_xlabel(xn, fontsize=17, labelpad=4)
    ax.set_ylabel(yn, fontsize=17, labelpad=4)


# ---------------- Regime I ----------------
title(450, 23, 'Regime I: Near-Gaussian Regime')
title(243, 64, '(a) Sample Trajectories')
title(656, 64, '(b) State Variable Distributions')

traj((57, 82, 428, 162), r1_u1, (-0.1, 2.33), [0, 1, 2], '$u_1$', False)
traj((57, 170, 428, 252), r1_u2, (-0.08, 2.44), [0, 1, 2], '$u_2$', False)
traj((57, 259, 428, 341), r1_u3, (-2, 0.88), [-2, -1, 0], '$u_3$', True)

dens((473, 82, 575, 181), r1_p1, lim_a, (0, 1.3), ticks_a, lab_a, yt_d1, yl_d1, '$u_1$')
dens((608, 82, 709, 181), r1_p2, lim_a, (0, 1.3), ticks_a, lab_a, yt_d1, yl_d1, '$u_2$')
dens((744, 82, 844, 181), r1_p3, lim_c, (0, 1.3), ticks_c, lab_c, yt_d1, yl_d1, '$u_3$')

scat((473, 240, 575, 347), r1_s12, lim_a, lim_a, ticks_a, lab_a, ticks_a, '$u_1$', '$u_2$')
scat((608, 240, 709, 347), r1_s23, lim_a, lim_c, ticks_a, lab_a, ticks_c, '$u_2$', '$u_3$')
scat((744, 240, 844, 347), r1_s31, lim_c, lim_a, ticks_c, lab_c, ticks_a, '$u_3$', '$u_1$')

# ---------------- Regime II ----------------
title(450, 463, 'Regime II: Highly Non-Gaussian Regime')
title(243, 497, '(c) Sample Trajectories')
title(656, 497, '(d) State Variable Distributions')

traj((60, 518, 427, 595), r2_u1, (-4, 6.1), [-4, 0, 4], '$u_1$', False)
traj((60, 609, 427, 686), r2_u2, (-4, 6.1), [-4, 0, 4], '$u_2$', False)
traj((60, 699, 427, 777), r2_u3, (-4, 6.0), [-4, 0, 4], '$u_3$', True)

dens((473, 517, 568, 617), r2_p1, lim_2, (0, 0.295), ticks_2, lab_2, yt_d2, yl_d2, '$u_1$')
dens((609, 517, 704, 617), r2_p2, lim_2, (0, 0.295), ticks_2, lab_2, yt_d2, yl_d2, '$u_2$')
dens((745, 517, 840, 617), r2_p3, lim_2, (0, 0.295), ticks_2, lab_2, yt_d2, yl_d2, '$u_3$')

scat((473, 678, 568, 777), r2_s12, lim_2, lim_2, ticks_2, lab_2, ticks_2, '$u_1$', '$u_2$')
scat((609, 678, 704, 777), r2_s23, lim_2, lim_2, ticks_2, lab_2, ticks_2, '$u_2$', '$u_3$')
scat((745, 678, 840, 777), r2_s31, lim_2, lim_2, ticks_2, lab_2, ticks_2, '$u_3$', '$u_1$')

fig.savefig('out.png', dpi=100)
